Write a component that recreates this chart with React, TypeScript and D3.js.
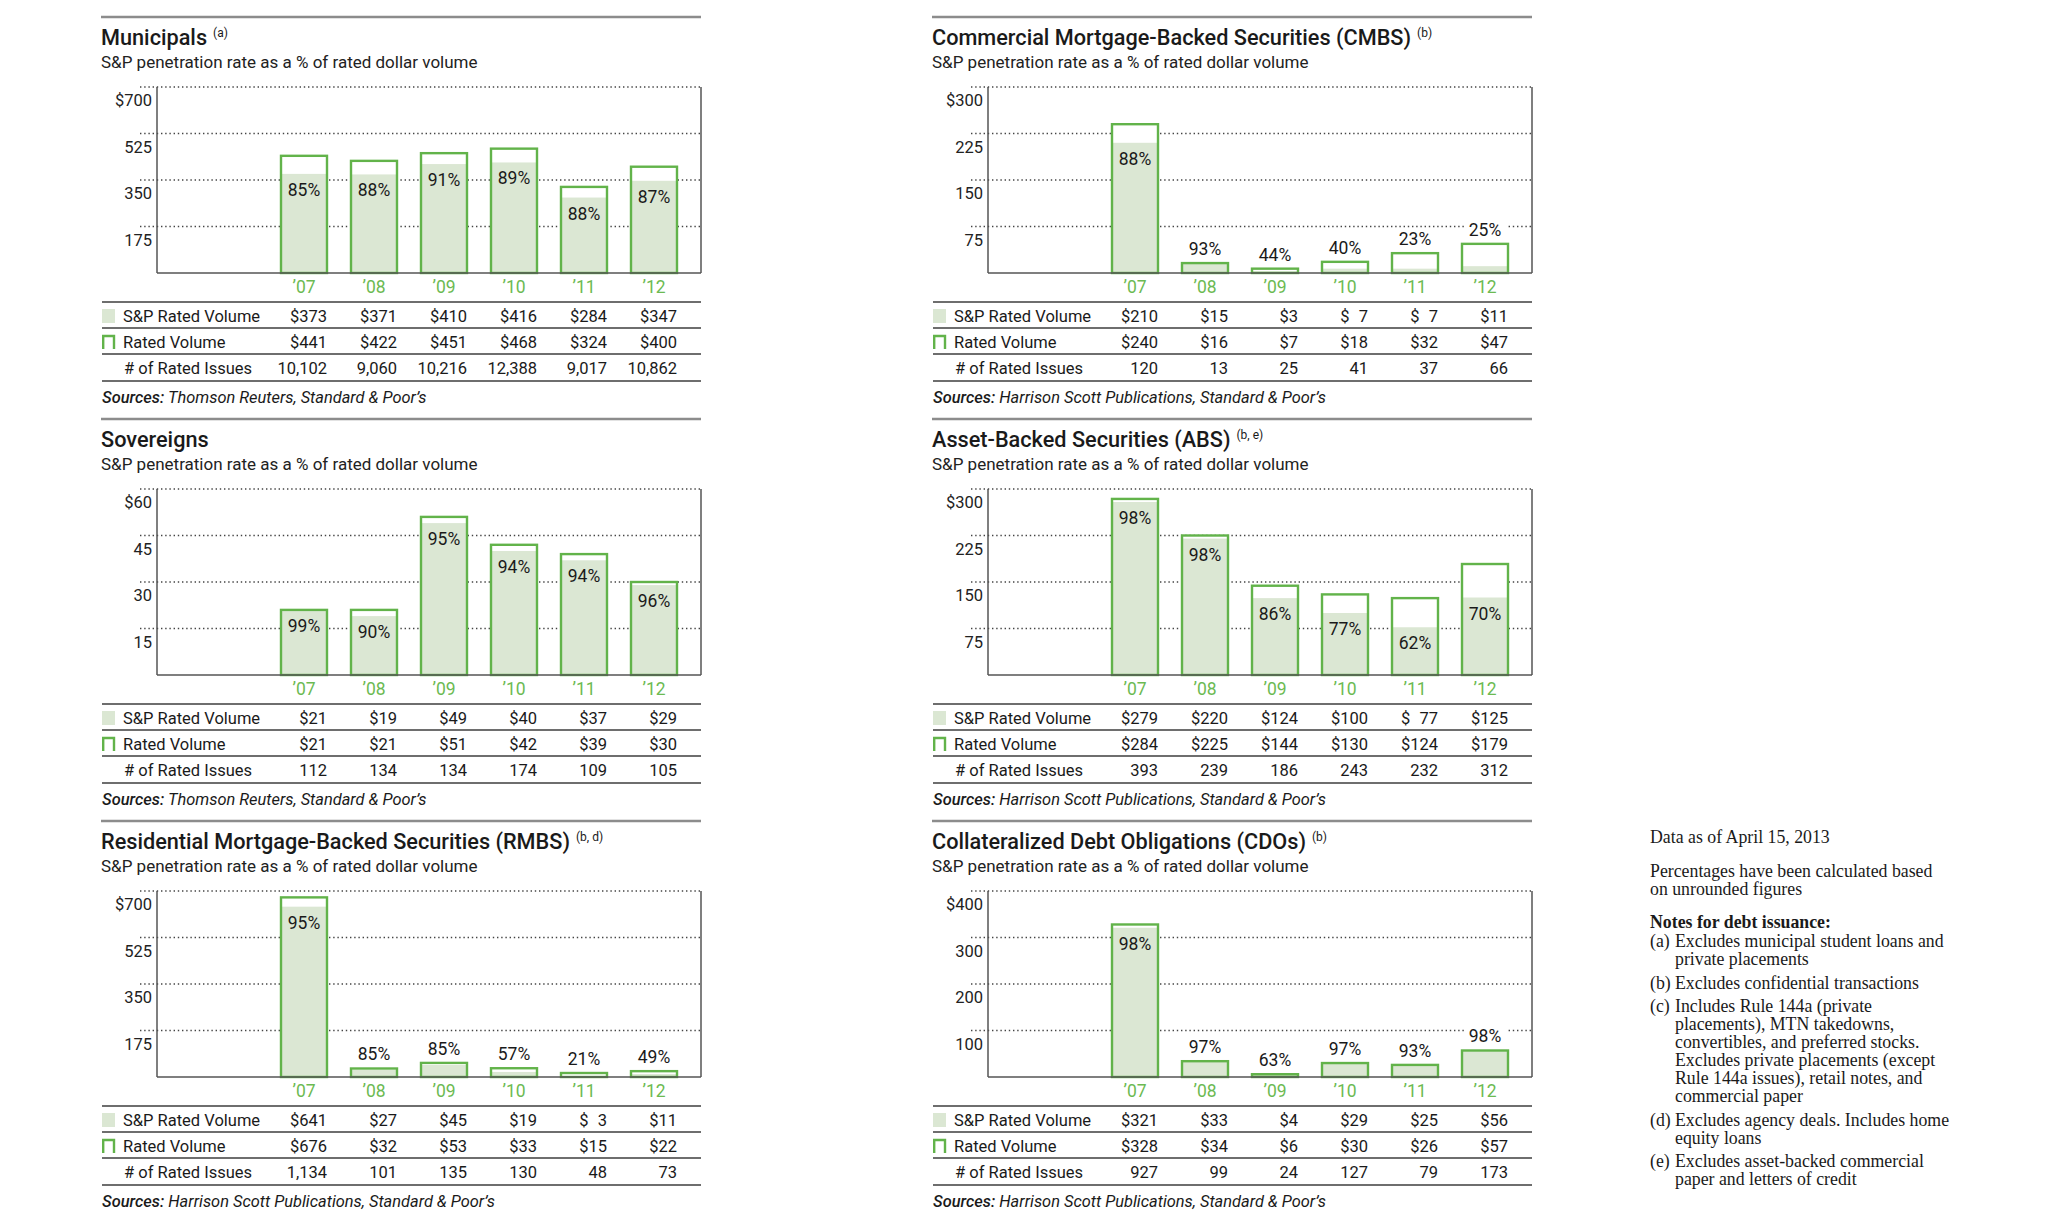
import React from "react";
import * as d3 from "d3";

// categories shared by every panel
const years = ["’07", "’08", "’09", "’10", "’11", "’12"];

// Municipals
const muniSp = [373, 371, 410, 416, 284, 347];
const muniRated = [441, 422, 451, 468, 324, 400];
const muniPct = [85, 88, 91, 89, 88, 87];
const muniIssues = [10102, 9060, 10216, 12388, 9017, 10862];

// CMBS
const cmbsSp = [210, 15, 3, 7, 7, 11];
const cmbsRated = [240, 16, 7, 18, 32, 47];
const cmbsPct = [88, 93, 44, 40, 23, 25];
const cmbsIssues = [120, 13, 25, 41, 37, 66];

// Sovereigns
const sovSp = [21, 19, 49, 40, 37, 29];
const sovRated = [21, 21, 51, 42, 39, 30];
const sovPct = [99, 90, 95, 94, 94, 96];
const sovIssues = [112, 134, 134, 174, 109, 105];

// ABS
const absSp = [279, 220, 124, 100, 77, 125];
const absRated = [284, 225, 144, 130, 124, 179];
const absPct = [98, 98, 86, 77, 62, 70];
const absIssues = [393, 239, 186, 243, 232, 312];

// RMBS
const rmbsSp = [641, 27, 45, 19, 3, 11];
const rmbsRated = [676, 32, 53, 33, 15, 22];
const rmbsPct = [95, 85, 85, 57, 21, 49];
const rmbsIssues = [1134, 101, 135, 130, 48, 73];

// CDOs
const cdoSp = [321, 33, 4, 29, 25, 56];
const cdoRated = [328, 34, 6, 30, 26, 57];
const cdoPct = [98, 97, 63, 97, 93, 98];
const cdoIssues = [927, 99, 24, 127, 79, 173];

const srcThomson = "Thomson Reuters, Standard & Poor’s";
const srcHarrison = "Harrison Scott Publications, Standard & Poor’s";

const rowLabels = ["S&P Rated Volume", "Rated Volume", "# of Rated Issues"];
const subtitle = "S&P penetration rate as a % of rated dollar volume";

const noteIntro = "Data as of April 15, 2013";
const notePct = ["Percentages have been calculated based", "on unrounded figures"];
const noteHeading = "Notes for debt issuance:";
const noteItems = [
  { tag: "(a)", lines: ["Excludes municipal student loans and", "private placements"] },
  { tag: "(b)", lines: ["Excludes confidential transactions"] },
  {
    tag: "(c)",
    lines: [
      "Includes Rule 144a (private",
      "placements), MTN takedowns,",
      "convertibles, and preferred stocks.",
      "Excludes private placements (except",
      "Rule 144a issues), retail notes, and",
      "commercial paper",
    ],
  },
  { tag: "(d)", lines: ["Excludes agency deals. Includes home", "equity loans"] },
  { tag: "(e)", lines: ["Excludes asset-backed commercial", "paper and letters of credit"] },
];

type Panel = {
  col: number;
  row: number;
  title: string;
  sup?: string;
  yMax: number;
  yStep: number;
  sp: number[];
  rated: number[];
  pct: number[];
  issues: number[];
  source: string;
  gaps: number[]; // cells printed as "$ 7" in the S&P row
};

const panels: Panel[] = [
  { col: 0, row: 0, title: "Municipals", sup: "(a)", yMax: 700, yStep: 175, sp: muniSp, rated: muniRated, pct: muniPct, issues: muniIssues, source: srcThomson, gaps: [] },
  { col: 1, row: 0, title: "Commercial Mortgage-Backed Securities (CMBS)", sup: "(b)", yMax: 300, yStep: 75, sp: cmbsSp, rated: cmbsRated, pct: cmbsPct, issues: cmbsIssues, source: srcHarrison, gaps: [3, 4] },
  { col: 0, row: 1, title: "Sovereigns", yMax: 60, yStep: 15, sp: sovSp, rated: sovRated, pct: sovPct, issues: sovIssues, source: srcThomson, gaps: [] },
  { col: 1, row: 1, title: "Asset-Backed Securities (ABS)", sup: "(b, e)", yMax: 300, yStep: 75, sp: absSp, rated: absRated, pct: absPct, issues: absIssues, source: srcHarrison, gaps: [4] },
  { col: 0, row: 2, title: "Residential Mortgage-Backed Securities (RMBS)", sup: "(b, d)", yMax: 700, yStep: 175, sp: rmbsSp, rated: rmbsRated, pct: rmbsPct, issues: rmbsIssues, source: srcHarrison, gaps: [4] },
  { col: 1, row: 2, title: "Collateralized Debt Obligations (CDOs)", sup: "(b)", yMax: 400, yStep: 100, sp: cdoSp, rated: cdoRated, pct: cdoPct, issues: cdoIssues, source: srcHarrison, gaps: [] },
];

const colX = [101, 932];
const rowY = [17, 419, 821];

const GREEN = "#62b34a";
const FILL = "#dbe7d3";
const YEAR = "#6cba52";
const SANS = "Roboto, 'Noto Sans', sans-serif";
const SERIF = "'Liberation Serif', 'DejaVu Serif', serif";

const fmtInt = d3.format(",");

function ChartPanel({ p }: { p: Panel }) {
  const x0 = colX[p.col];
  const y0 = rowY[p.row];
  const W = 600;
  const axisX = 56;
  const top = 70;
  const bottom = 256;
  const barW = 46;

  const x = d3.scalePoint<string>().domain(years).range([203, 553]);
  const y = d3.scaleLinear().domain([0, p.yMax]).range([bottom, top]);
  const ticks = d3.range(p.yStep, p.yMax + 1, p.yStep);

  const tableLines = [285, 311, 337, 364];
  const rowBase = [305, 331, 357];

  return (
    <g transform={`translate(${x0},${y0})`} fontFamily={SANS}>
      <line x1={0} x2={W} y1={0} y2={0} stroke="#8c8c8c" strokeWidth={2.6} />
      <text x={0} y={28} fontSize={21.7} fontWeight={500} fill="#1a1a1a">
        {p.title}
        {p.sup && (
          <tspan dx={6} dy={-8} fontSize={12} fontWeight={400}>
            {p.sup}
          </tspan>
        )}
      </text>
      <text x={0} y={51} fontSize={17} fill="#222">
        {subtitle}
      </text>

      {/* dotted grid */}
      {ticks.map((t) => (
        <line
          key={t}
          x1={39}
          x2={W}
          y1={y(t)}
          y2={y(t)}
          stroke="#444"
          strokeWidth={1.4}
          strokeDasharray="1.4 2.8"
        />
      ))}
      {ticks.map((t) => (
        <text key={"l" + t} x={51} y={y(t) + 19} fontSize={16.5} textAnchor="end" fill="#222">
          {t === p.yMax ? `$${t}` : t}
        </text>
      ))}

      {/* bars */}
      {years.map((yr, i) => {
        const cx = x(yr)!;
        const rTop = y(p.rated[i]);
        const sTop = y(p.sp[i]);
        return (
          <g key={yr}>
            <rect x={cx - barW / 2} y={rTop} width={barW} height={bottom - rTop} fill="#fff" />
            <rect x={cx - barW / 2} y={sTop} width={barW} height={bottom - sTop} fill={FILL} />
            <rect
              x={cx - barW / 2}
              y={rTop}
              width={barW}
              height={bottom - rTop}
              fill="none"
              stroke={GREEN}
              strokeWidth={2.4}
            />
          </g>
        );
      })}

      {/* axes frame */}
      <line x1={axisX} x2={axisX} y1={top} y2={bottom} stroke="#555" strokeWidth={1.5} />
      <line x1={W} x2={W} y1={top} y2={bottom} stroke="#555" strokeWidth={1.5} />
      <line x1={axisX} x2={W} y1={bottom} y2={bottom} stroke="#555" strokeWidth={1.6} />

      {/* penetration labels */}
      {years.map((yr, i) => {
        const cx = x(yr)!;
        const rTop = y(p.rated[i]);
        const sTop = y(p.sp[i]);
        const inside = bottom - sTop >= 40;
        const base = inside ? sTop + 22 : rTop - 8;
        return (
          <g key={"p" + yr}>
            {!inside && <rect x={cx - 21} y={base - 15} width={42} height={19} fill="#fff" />}
            <text x={cx} y={base} fontSize={17.5} textAnchor="middle" fill="#1a1a1a">
              {p.pct[i]}%
            </text>
          </g>
        );
      })}

      {/* year labels */}
      {years.map((yr) => (
        <text key={"y" + yr} x={x(yr)!} y={276} fontSize={17.5} textAnchor="middle" fill={YEAR}>
          {yr}
        </text>
      ))}

      {/* table */}
      {tableLines.map((ly, i) => (
        <line key={"t" + i} x1={1} x2={W} y1={ly} y2={ly} stroke="#6e6e6e" strokeWidth={1.8} />
      ))}
      <rect x={1} y={rowBase[0] - 13} width={13} height={14} fill={FILL} />
      <path
        d={`M2.2,${rowBase[1] + 1}V${rowBase[1] - 12}H13V${rowBase[1] + 1}`}
        fill="none"
        stroke={GREEN}
        strokeWidth={2.4}
      />
      {rowLabels.map((l, i) => (
        <text key={l} x={i === 2 ? 23 : 22} y={rowBase[i]} fontSize={16.5} fill="#1a1a1a">
          {l}
        </text>
      ))}
      {years.map((yr, i) => {
        const rx = x(yr)! + barW / 2;
        const spTxt = p.gaps.includes(i) ? `$\u2007${p.sp[i]}` : `$${p.sp[i]}`;
        return (
          <g key={"v" + yr} fontSize={16.5} textAnchor="end" fill="#1a1a1a">
            <text x={rx} y={rowBase[0]}>{spTxt}</text>
            <text x={rx} y={rowBase[1]}>{`$${p.rated[i]}`}</text>
            <text x={rx} y={rowBase[2]}>{fmtInt(p.issues[i])}</text>
          </g>
        );
      })}
      <text x={1} y={386} fontSize={16.4} fontStyle="italic" fill="#1a1a1a">
        <tspan fontWeight={500}>Sources:</tspan> {p.source}
      </text>
    </g>
  );
}

function Notes() {
  const nx = 1650;
  const tx = 1675;
  const lh = 18;
  const items: React.ReactNode[] = [];
  let yy = 947;
  noteItems.forEach((n, i) => {
    items.push(
      <text key={"tag" + i} x={nx} y={yy}>
        {n.tag}
      </text>
    );
    n.lines.forEach((l, j) => {
      items.push(
        <text key={`n${i}-${j}`} x={tx} y={yy + j * lh}>
          {l}
        </text>
      );
    });
    yy += (n.lines.length - 1) * lh + 23.5;
  });
  return (
    <g fontFamily={SERIF} fontSize={17.8} fill="#1a1a1a">
      <text x={nx} y={843}>{noteIntro}</text>
      {notePct.map((l, i) => (
        <text key={l} x={nx} y={877 + i * lh}>
          {l}
        </text>
      ))}
      <text x={nx} y={928} fontWeight="bold">
        {noteHeading}
      </text>
      {items}
    </g>
  );
}

export default function App() {
  return (
    <svg
      width={2048}
      height={1228}
      style={{ position: "absolute", left: 0, top: 0, background: "#fff" }}
    >
      <rect width={2048} height={1228} fill="#fff" />
      {panels.map((p) => (
        <ChartPanel key={p.title} p={p} />
      ))}
      <Notes />
    </svg>
  );
}
